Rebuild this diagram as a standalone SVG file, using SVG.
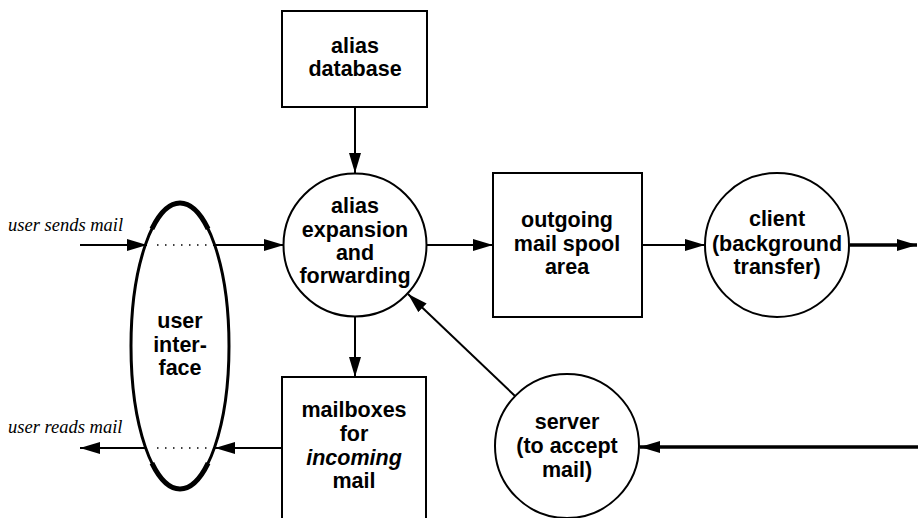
<svg xmlns="http://www.w3.org/2000/svg" width="918" height="518" viewBox="0 0 918 518">
<style>
.n{fill:#fff;stroke:#000;stroke-width:2}
.t{font-family:"Liberation Sans",Arial,sans-serif;font-weight:bold;font-size:21.5px;text-anchor:middle;fill:#000}
.l{font-family:"Liberation Serif","Times New Roman",serif;font-style:italic;font-size:18.5px;fill:#000}
.c{fill:none;stroke:#000;stroke-width:2}
.k{fill:none;stroke:#000;stroke-width:3.5}
.d{fill:none;stroke:#000;stroke-width:1.5;stroke-dasharray:1.5 6.5}
</style>
<defs>
<marker id="a" markerUnits="userSpaceOnUse" markerWidth="21" markerHeight="13" refX="20" refY="6.5" orient="auto">
<path d="M0,0.5 L20,6.5 L0,12.5 Z" fill="#000"/>
</marker>
</defs>
<rect width="918" height="518" fill="#fff"/>
<g id="connectors">
<line class="c" x1="355" y1="107" x2="355" y2="173" marker-end="url(#a)"/>
<line class="c" x1="80" y1="245" x2="147" y2="245" marker-end="url(#a)"/>
<line class="c" x1="213" y1="245" x2="284" y2="245" marker-end="url(#a)"/>
<line class="d" x1="157" y1="245" x2="207" y2="245"/>
<line class="c" x1="427" y1="245" x2="493" y2="245" marker-end="url(#a)"/>
<line class="c" x1="642" y1="245" x2="705" y2="245" marker-end="url(#a)"/>
<line class="k" x1="850" y1="245" x2="917" y2="245" marker-end="url(#a)"/>
<line class="c" x1="355" y1="316" x2="355" y2="377" marker-end="url(#a)"/>
<line class="c" x1="282" y1="448" x2="215" y2="448" marker-end="url(#a)"/>
<line class="d" x1="157" y1="448" x2="207" y2="448"/>
<line class="c" x1="147" y1="448" x2="80" y2="448" marker-end="url(#a)"/>
<line class="c" x1="515" y1="396" x2="408" y2="294" marker-end="url(#a)"/>
<line class="k" x1="918" y1="447" x2="640" y2="447" marker-end="url(#a)"/>
</g>
<text class="l" x="8" y="231">user sends mail</text>
<text class="l" x="8" y="433">user reads mail</text>
<g id="alias-db">
<rect class="n" x="282" y="11" width="145" height="96"/>
<text class="t" x="355" y="53">alias</text>
<text class="t" x="355" y="76">database</text>
</g>
<g id="alias-exp">
<circle class="n" cx="355" cy="245" r="71.5"/>
<text class="t" x="355" y="213">alias</text>
<text class="t" x="355" y="237">expansion</text>
<text class="t" x="355" y="260">and</text>
<text class="t" x="355" y="283">forwarding</text>
</g>
<g id="user-interface">
<ellipse cx="180" cy="346" rx="49" ry="143" fill="none" stroke="#000" stroke-width="3"/>
<path d="M151.9,228.9 A49,143 0 0 1 208.1,228.9 M208.1,463.1 A49,143 0 0 1 151.9,463.1" fill="none" stroke="#000" stroke-width="5"/>
<text class="t" x="180" y="328">user</text>
<text class="t" x="180" y="352">inter-</text>
<text class="t" x="180" y="375">face</text>
</g>
<g id="spool">
<rect class="n" x="493" y="173" width="149" height="144"/>
<text class="t" x="567" y="227">outgoing</text>
<text class="t" x="567" y="251">mail spool</text>
<text class="t" x="567" y="274">area</text>
</g>
<g id="client">
<circle class="n" cx="777" cy="245" r="72"/>
<text class="t" x="777" y="226">client</text>
<text class="t" x="777" y="251">(background</text>
<text class="t" x="777" y="274">transfer)</text>
</g>
<g id="mailboxes">
<path class="n" d="M282,520 V377 H426 V520"/>
<text class="t" x="354" y="417">mailboxes</text>
<text class="t" x="354" y="441">for</text>
<text class="t" x="354" y="465" font-style="italic">incoming</text>
<text class="t" x="354" y="488">mail</text>
</g>
<g id="server">
<circle class="n" cx="567" cy="446" r="72"/>
<text class="t" x="567" y="429">server</text>
<text class="t" x="567" y="453">(to accept</text>
<text class="t" x="567" y="477">mail)</text>
</g>
</svg>
